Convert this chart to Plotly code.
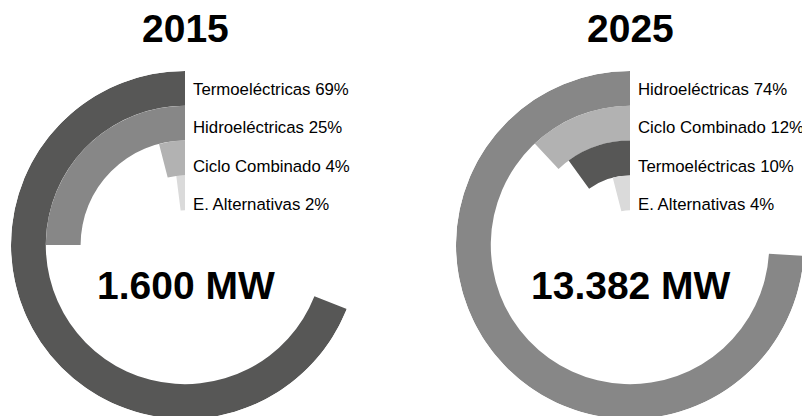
import plotly.graph_objects as go

# ---- data ----
years = ["2015", "2025"]
totals = ["1.600 MW", "13.382 MW"]
cats_2015 = ["Termoeléctricas", "Hidroeléctricas", "Ciclo Combinado", "E. Alternativas"]
pcts_2015 = [69, 25, 4, 2]
cats_2025 = ["Hidroeléctricas", "Ciclo Combinado", "Termoeléctricas", "E. Alternativas"]
pcts_2025 = [74, 12, 10, 4]

colors = {
    "Termoeléctricas": "#575756",
    "Hidroeléctricas": "#878787",
    "Ciclo Combinado": "#b2b2b2",
    "E. Alternativas": "#dadada",
}

# page body has a default 8px margin; work in reference pixel coords
OFF = 8
radius = 174
CY = 245                       # circle centre y in page pixels
W = 810 - OFF
H = CY + radius - OFF          # figure bottom touches circle bottom
FONT = "Liberation Sans, Arial, Helvetica, sans-serif"


def px(X):
    return (X - OFF) / W


def py(Y):
    return 1 - (Y - OFF) / H


fig = go.Figure()
panels = [(cats_2015, pcts_2015), (cats_2025, pcts_2025)]
centers_x = [185, 630]

annotations = []
for k, (cats, pcts) in enumerate(panels):
    n = len(cats)
    pid = "polar" if k == 0 else f"polar{k+1}"
    fig.add_trace(go.Barpolar(
        r=[1] * n,
        base=[n - i for i in range(n)],
        theta=[p * 3.6 / 2 for p in pcts],
        width=[p * 3.6 for p in pcts],
        marker=dict(color=[colors[c] for c in cats], line=dict(width=0)),
        subplot=pid,
        hoverinfo="skip",
        showlegend=False,
    ))
    cx = centers_x[k]
    dom_x = [px(cx - radius), px(cx + radius)]
    dom_y = [py(CY + radius), py(CY - radius)]
    fig.update_layout(**{pid: dict(
        domain=dict(x=dom_x, y=dom_y),
        bgcolor="white",
        hole=0,
        radialaxis=dict(range=[0, n + 1], visible=False, showgrid=False),
        angularaxis=dict(rotation=90, direction="counterclockwise", visible=False,
                         showgrid=False, showline=False, showticklabels=False, ticks=""),
        barmode="overlay",
    )})
    # year title
    annotations.append(dict(x=px(cx), y=py(28), xref="paper", yref="paper",
                            text=f"<b>{years[k]}</b>", showarrow=False, borderpad=0,
                            font=dict(family=FONT, size=39, color="#000"),
                            xanchor="center", yanchor="middle"))
    # total in center
    annotations.append(dict(x=px(cx + 1), y=py(285), xref="paper", yref="paper",
                            text=f"<b>{totals[k]}</b>", showarrow=False,
                            font=dict(family=FONT, size=39, color="#000"),
                            xanchor="center", yanchor="middle"))
    # ring labels
    for i, (c, p) in enumerate(zip(cats, pcts)):
        annotations.append(dict(x=px(cx + 7), y=py(90 + 38 * i),
                                xref="paper", yref="paper",
                                text=f"{c} {p}%", showarrow=False, borderpad=0,
                                font=dict(family=FONT, size=16.8, color="#000"),
                                xanchor="left", yanchor="middle"))

fig.update_layout(
    width=W, height=H,
    margin=dict(l=0, r=0, t=0, b=0),
    paper_bgcolor="white",
    plot_bgcolor="white",
    annotations=annotations,
    showlegend=False,
)

fig.write_html("out.html")
